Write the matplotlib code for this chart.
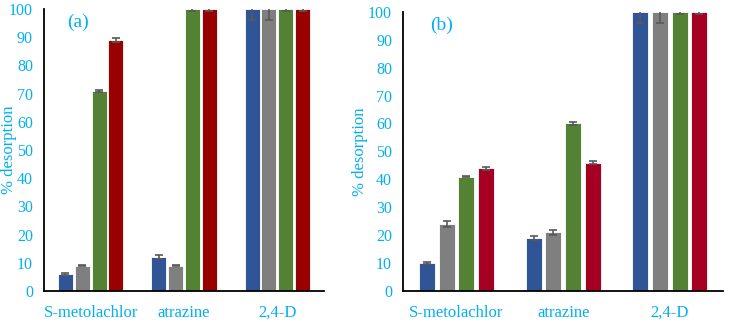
import numpy as np
import matplotlib.pyplot as plt

plt.rcParams['font.family'] = ['Liberation Serif', 'DejaVu Serif']

categories = ['S-metolachlor', 'atrazine', '2,4-D']

# panel (a)
a_blue = [6, 12, 100]
a_gray = [9, 9, 100]
a_green = [71, 100, 100]
a_red = [89, 100, 100]
a_blue_err = [0.3, 0.6, 4]
a_gray_err = [0.3, 0.3, 4]
a_green_err = [0.4, 0.6, 0.7]
a_red_err = [0.8, 0.6, 0.7]

# panel (b)
b_blue = [10, 19, 100]
b_gray = [24, 21, 100]
b_green = [41, 60, 100]
b_red = [44, 46, 100]
b_blue_err = [0.3, 0.7, 4]
b_gray_err = [1.0, 0.9, 4]
b_green_err = [0.3, 0.6, 0.7]
b_red_err = [0.5, 0.4, 0.7]

cyan = '#00b0f0'
err_color = '#595959'


def panel(ax, series, errs, colors, label, step, width):
    x = np.arange(len(categories))
    n = len(series)
    for i, (vals, e, c) in enumerate(zip(series, errs, colors)):
        off = (i - (n - 1) / 2) * step
        ax.bar(x + off, vals, width, color=c, edgecolor='white', linewidth=0.6,
               yerr=e, ecolor=err_color, capsize=3.2,
               error_kw={'elinewidth': 1.2, 'capthick': 1.2})
    ax.set_xlim(-0.5, 2.5)
    ax.set_ylim(0, 100)
    ax.set_yticks(range(0, 101, 10))
    ax.set_xticks(x)
    ax.set_xticklabels(categories, color=cyan, fontsize=12)
    ax.tick_params(axis='y', colors=cyan, labelsize=11.5, length=0, pad=8)
    ax.tick_params(axis='x', length=0, pad=10)
    ax.spines['top'].set_visible(False)
    ax.spines['right'].set_visible(False)
    ax.spines['left'].set_linewidth(1.3)
    ax.spines['bottom'].set_linewidth(1.3)
    ax.set_ylabel('% desorption', color=cyan, fontsize=12)
    ax.text(0.12, 0.953, label, transform=ax.transAxes, color=cyan, fontsize=14,
            ha='center', va='center')


fig = plt.figure(figsize=(7.29, 3.22), dpi=100)
ax1 = fig.add_axes([0.0604, 0.0963, 0.384, 0.876])
ax2 = fig.add_axes([0.553, 0.0963, 0.439, 0.867])

panel(ax1, [a_blue, a_gray, a_green, a_red],
      [a_blue_err, a_gray_err, a_green_err, a_red_err],
      ['#2f5597', '#7f7f7f', '#548235', '#990000'], '(a)', 0.18, 0.16)
panel(ax2, [b_blue, b_gray, b_green, b_red],
      [b_blue_err, b_gray_err, b_green_err, b_red_err],
      ['#2f5597', '#7f7f7f', '#548235', '#a50021'], '(b)', 0.184, 0.15)

ax1.yaxis.set_label_coords(-0.095, 0.5)
ax2.yaxis.set_label_coords(-0.11, 0.5)

fig.savefig('out.png', dpi=100)
